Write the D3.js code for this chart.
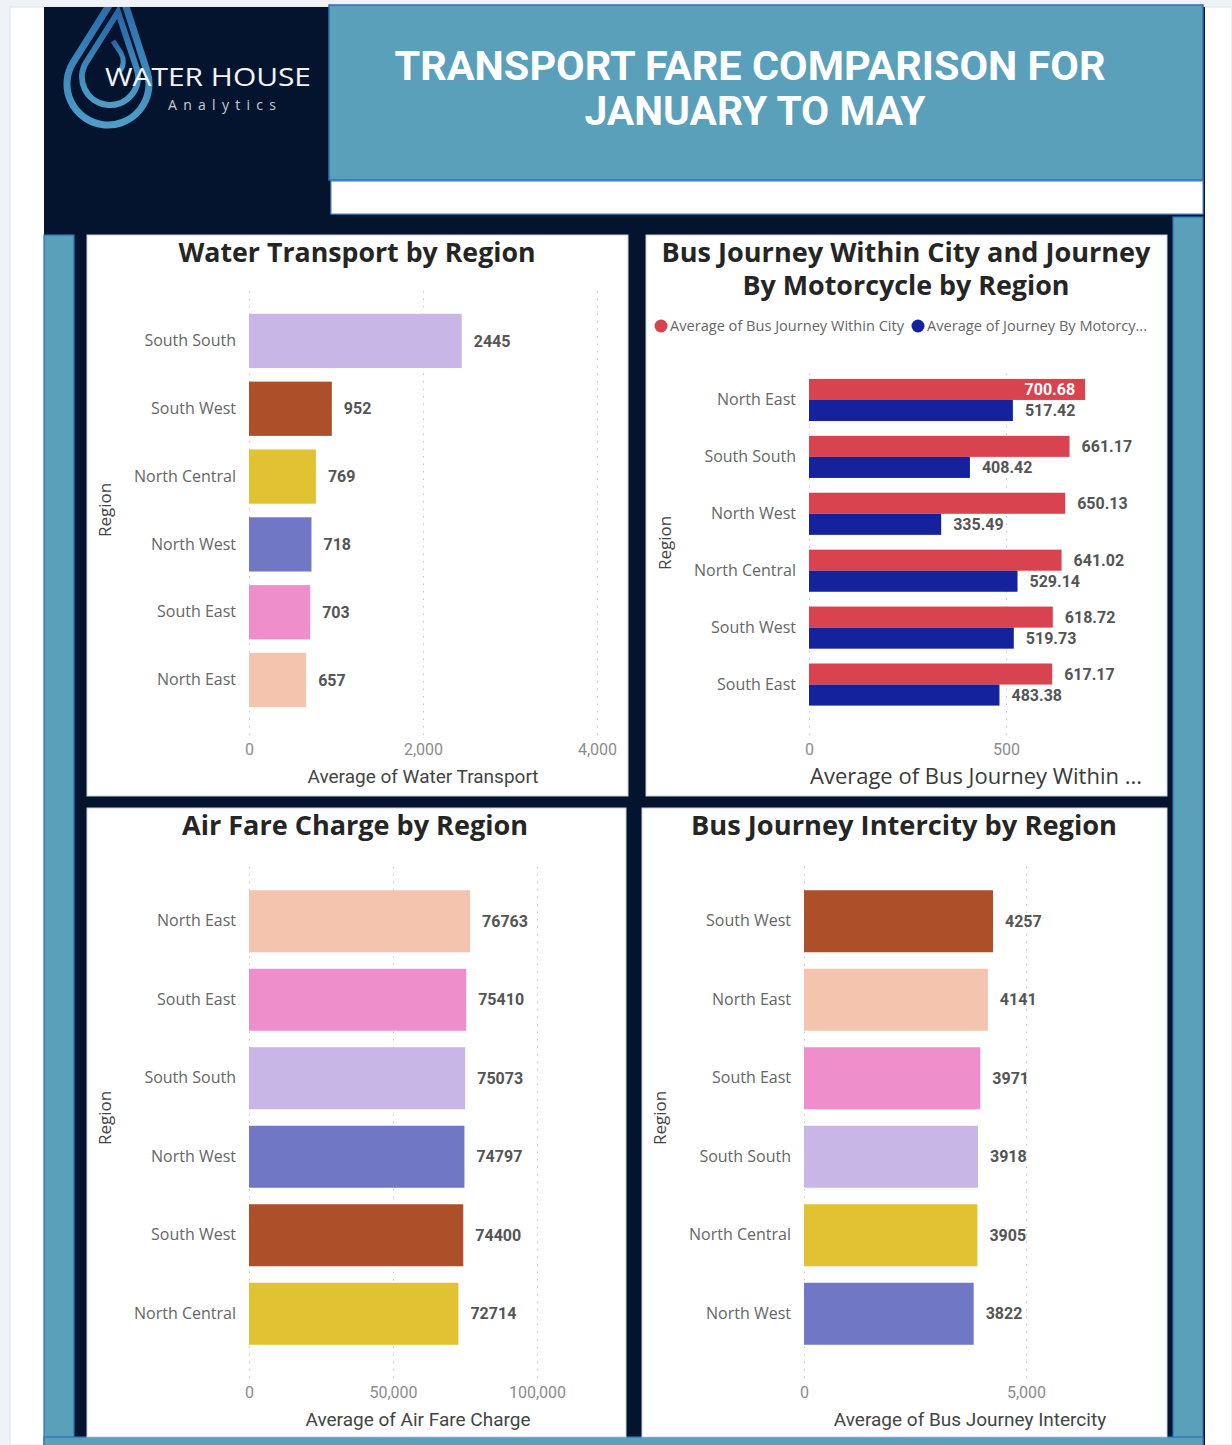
<!DOCTYPE html>
<html>
<head>
<meta charset="utf-8">
<script src="https://cdn.jsdelivr.net/npm/d3@7"></script>
<style>
  body { margin: 0; background: #eff3f8; }
  svg { display: block; }
</style>
</head>
<body>
<div id="chart"></div>
<script>
"use strict";

// --- data ---
var waterRegions = ["South South", "South West", "North Central", "North West", "South East", "North East"];
var waterValues = [2445, 952, 769, 718, 703, 657];
var waterTicks = [0, 2000, 4000];

var busRegions = ["North East", "South South", "North West", "North Central", "South West", "South East"];
var busCityValues = [700.68, 661.17, 650.13, 641.02, 618.72, 617.17];
var motoValues = [517.42, 408.42, 335.49, 529.14, 519.73, 483.38];
var busTicks = [0, 500];
var busSeries = ["Average of Bus Journey Within City", "Average of Journey By Motorcy..."];

var airRegions = ["North East", "South East", "South South", "North West", "South West", "North Central"];
var airValues = [76763, 75410, 75073, 74797, 74400, 72714];
var airTicks = [0, 50000, 100000];

var interRegions = ["South West", "North East", "South East", "South South", "North Central", "North West"];
var interValues = [4257, 4141, 3971, 3918, 3905, 3822];
var interTicks = [0, 5000];

var regionColor = {
  "South South": "#c8b7e6",
  "South West": "#ad4f28",
  "North Central": "#e0c232",
  "North West": "#7078c5",
  "South East": "#ee8fcc",
  "North East": "#f4c4ae"
};
var busColor = "#d8434f", motoColor = "#14229d";

var W = 1232, H = 1445;
var navy = "#04142e", teal = "#5aa0bb";

var svg = d3.select("#chart").append("svg")
  .attr("width", W)
  .attr("height", H);

// page + frame
svg.append("rect").attr("width", W).attr("height", H).attr("fill", "#eff3f8");
svg.append("rect").attr("x", 10).attr("y", 7).attr("width", W - 10).attr("height", H - 7)
  .attr("fill", "#ffffff").attr("stroke", "#dde3ea");
svg.append("rect").attr("x", 44).attr("y", 7).attr("width", 1161).attr("height", H - 7).attr("fill", navy);

// header title box
svg.append("rect").attr("x", 329).attr("y", 5).attr("width", 874).attr("height", 175)
  .attr("fill", teal).attr("stroke", "#2e72b3").attr("stroke-width", 1.5);
svg.append("rect").attr("x", 331).attr("y", 181).attr("width", 872).attr("height", 33)
  .attr("fill", "#ffffff").attr("stroke", "#5b95d6").attr("stroke-width", 1.2);

svg.append("text").attr("x", 750).attr("y", 80)
  .attr("text-anchor", "middle").attr("fill", "#fff")
  .attr("font-family", "Roboto").attr("font-weight", 700).attr("font-size", 40)
  .attr("textLength", 711).attr("lengthAdjust", "spacingAndGlyphs")
  .text("TRANSPORT FARE COMPARISON FOR");
svg.append("text").attr("x", 755).attr("y", 125)
  .attr("text-anchor", "middle").attr("fill", "#fff")
  .attr("font-family", "Roboto").attr("font-weight", 700).attr("font-size", 40)
  .attr("textLength", 341).attr("lengthAdjust", "spacingAndGlyphs")
  .text("JANUARY TO MAY");

// side strips
svg.append("rect").attr("x", 44).attr("y", 235).attr("width", 30).attr("height", H - 235)
  .attr("fill", teal).attr("stroke", "#2e72b3").attr("stroke-width", 1.2);
svg.append("rect").attr("x", 1173).attr("y", 217).attr("width", 30).attr("height", H - 217)
  .attr("fill", teal).attr("stroke", "#2e72b3").attr("stroke-width", 1.2);
svg.append("rect").attr("x", 44).attr("y", 1437).attr("width", 1159).attr("height", 12)
  .attr("fill", teal).attr("stroke", "#2e72b3").attr("stroke-width", 1.2);

// logo
var defs = svg.append("defs");
var grad = defs.append("linearGradient").attr("id", "dropGrad")
  .attr("x1", 0).attr("y1", 0).attr("x2", 0).attr("y2", 1);
grad.append("stop").attr("offset", "0%").attr("stop-color", "#2566a6");
grad.append("stop").attr("offset", "100%").attr("stop-color", "#4e9ec8");
defs.append("clipPath").attr("id", "logoClip")
  .append("rect").attr("x", 44).attr("y", 7).attr("width", 284).attr("height", 200);

function dropPath(cx, cy, r, tx, ty) {
  var dx = tx - cx, dy = ty - cy;
  var d = Math.sqrt(dx * dx + dy * dy);
  var base = Math.atan2(dy, dx);
  var phi = Math.acos(r / d);
  var a1 = base + phi, a2 = base - phi;
  var p1 = [cx + r * Math.cos(a1), cy + r * Math.sin(a1)];
  var p2 = [cx + r * Math.cos(a2), cy + r * Math.sin(a2)];
  return "M" + tx + "," + ty + " L" + p1[0] + "," + p1[1] +
    " A" + r + "," + r + " 0 1 1 " + p2[0] + "," + p2[1] + " Z";
}
var logo = svg.append("g").attr("clip-path", "url(#logoClip)");
logo.append("path").attr("d", dropPath(108, 84, 41, 120, -12))
  .attr("fill", "none").attr("stroke", "url(#dropGrad)").attr("stroke-width", 7);
logo.append("path").attr("d", dropPath(110, 77, 28, 118, 12))
  .attr("fill", "none").attr("stroke", "url(#dropGrad)").attr("stroke-width", 6);
logo.append("path").attr("d", "M113,41 L121,53 Q126,63 120,71")
  .attr("fill", "none").attr("stroke", "url(#dropGrad)").attr("stroke-width", 5);
logo.append("text").attr("x", 105).attr("y", 86)
  .attr("fill", "#f2f4f7").attr("font-family", "Open Sans").attr("font-size", 26)
  .attr("textLength", 206).attr("lengthAdjust", "spacingAndGlyphs")
  .text("WATER HOUSE");
logo.append("text").attr("x", 168).attr("y", 110)
  .attr("fill", "#c9ced6").attr("font-family", "Open Sans").attr("font-size", 14)
  .attr("textLength", 108)
  .text("Analytics");

// panels
var panels = [
  [87, 235, 541, 561],
  [646, 235, 521, 561],
  [87, 808, 539, 629],
  [642, 808, 525, 629]
];
svg.selectAll("rect.panel").data(panels).enter().append("rect")
  .attr("class", "panel")
  .attr("x", function(d) { return d[0]; })
  .attr("y", function(d) { return d[1]; })
  .attr("width", function(d) { return d[2]; })
  .attr("height", function(d) { return d[3]; })
  .attr("fill", "#ffffff").attr("stroke", "#c9ced8").attr("stroke-width", 1);

function title(lines, cx, y0, widths) {
  lines.forEach(function(t, i) {
    svg.append("text").attr("x", cx).attr("y", y0 + i * 33)
      .attr("text-anchor", "middle").attr("fill", "#252525")
      .attr("font-family", "Open Sans").attr("font-weight", 700).attr("font-size", 26)
      .attr("textLength", widths[i]).attr("lengthAdjust", "spacingAndGlyphs")
      .text(t);
  });
}

function regionLabel(x, y) {
  svg.append("text").attr("transform", "translate(" + x + "," + y + ") rotate(-90)")
    .attr("text-anchor", "middle").attr("fill", "#444")
    .attr("font-family", "Open Sans").attr("font-size", 17)
    .text("Region");
}

function axisPart(g, x, cfg) {
  var ax = g.append("g")
    .attr("transform", "translate(0," + cfg.gridBot + ")")
    .call(d3.axisBottom(x).tickValues(cfg.ticks)
      .tickSize(-(cfg.gridBot - cfg.gridTop))
      .tickPadding(9)
      .tickFormat(d3.format(",")));
  ax.select(".domain").remove();
  ax.selectAll(".tick line").attr("stroke", "#c4c4c4").attr("stroke-dasharray", "1.5,6");
  ax.selectAll(".tick text").attr("fill", "#8c8c8c")
    .attr("font-family", "Roboto").attr("font-size", 16);
}

function catAxis(g, y, labelX) {
  var ay = g.append("g")
    .attr("transform", "translate(" + labelX + ",0)")
    .call(d3.axisLeft(y).tickSize(0).tickPadding(0));
  ay.select(".domain").remove();
  ay.selectAll(".tick text").attr("fill", "#666")
    .attr("font-family", "Open Sans").attr("font-size", 16);
}

function simpleBars(cfg) {
  var g = svg.append("g");
  var x = d3.scaleLinear().domain([0, cfg.max]).range([cfg.x0, cfg.x1]);
  var y = d3.scaleBand().domain(cfg.regions).range([cfg.y0, cfg.y1])
    .paddingInner(cfg.pad).paddingOuter(cfg.pad / 2);
  var rows = cfg.regions.map(function(r, i) { return { region: r, value: cfg.values[i] }; });

  axisPart(g, x, cfg);
  catAxis(g, y, cfg.x0 - 13);

  g.selectAll("rect.bar").data(rows).enter().append("rect")
    .attr("class", "bar")
    .attr("x", x(0))
    .attr("y", function(d) { return y(d.region); })
    .attr("width", function(d) { return x(d.value) - x(0); })
    .attr("height", y.bandwidth())
    .attr("fill", function(d) { return regionColor[d.region]; });

  g.selectAll("text.val").data(rows).enter().append("text")
    .attr("class", "val")
    .attr("x", function(d) { return x(d.value) + 12; })
    .attr("y", function(d) { return y(d.region) + y.bandwidth() / 2; })
    .attr("dy", "0.35em")
    .attr("fill", "#555").attr("font-family", "Roboto").attr("font-weight", 700).attr("font-size", 16)
    .text(function(d) { return d.value; });

  g.append("text").attr("x", cfg.titleX).attr("y", cfg.titleY)
    .attr("text-anchor", "middle").attr("fill", "#444")
    .attr("font-family", "Roboto").attr("font-size", 19)
    .text(cfg.axisTitle);
}

// chart 1: water transport
title(["Water Transport by Region"], 357, 262, [357]);
regionLabel(111, 510);
simpleBars({
  regions: waterRegions, values: waterValues, ticks: waterTicks,
  max: 4000, x0: 249, x1: 597, y0: 307, y1: 714, pad: 0.2,
  gridTop: 290, gridBot: 735,
  axisTitle: "Average of Water Transport", titleX: 423, titleY: 783
});

// chart 3: air fare
title(["Air Fare Charge by Region"], 355, 835, [346]);
regionLabel(111, 1118);
simpleBars({
  regions: airRegions, values: airValues, ticks: airTicks,
  max: 100000, x0: 249, x1: 537, y0: 882, y1: 1353, pad: 0.21,
  gridTop: 865, gridBot: 1378,
  axisTitle: "Average of Air Fare Charge", titleX: 418, titleY: 1426
});

// chart 4: bus intercity
title(["Bus Journey Intercity by Region"], 904, 835, [426]);
regionLabel(666, 1118);
simpleBars({
  regions: interRegions, values: interValues, ticks: interTicks,
  max: 7500, x0: 804, x1: 1137, y0: 882, y1: 1353, pad: 0.21,
  gridTop: 865, gridBot: 1378,
  axisTitle: "Average of Bus Journey Intercity", titleX: 970, titleY: 1426
});

// chart 2: bus within city vs motorcycle
title(["Bus Journey Within City and Journey", "By Motorcycle by Region"], 906, 262, [489, 327]);
regionLabel(671, 543);
(function() {
  var cfg = { ticks: busTicks, gridTop: 368, gridBot: 735 };
  var g = svg.append("g");
  var x = d3.scaleLinear().domain([0, 840]).range([809, 1140]);
  var y = d3.scaleBand().domain(busRegions).range([371.5, 713])
    .paddingInner(0.26).paddingOuter(0.13);
  var keys = ["city", "moto"];
  var y1 = d3.scaleBand().domain(keys).range([0, y.bandwidth()]);
  var rows = busRegions.map(function(r, i) {
    return { region: r, city: busCityValues[i], moto: motoValues[i] };
  });

  axisPart(g, x, cfg);
  catAxis(g, y, 796);

  var grp = g.selectAll("g.grp").data(rows).enter().append("g")
    .attr("class", "grp")
    .attr("transform", function(d) { return "translate(0," + y(d.region) + ")"; });

  var cells = grp.selectAll("g.cell")
    .data(function(d) { return keys.map(function(k) { return { key: k, value: d[k] }; }); })
    .enter().append("g").attr("class", "cell");

  cells.append("rect")
    .attr("x", x(0))
    .attr("y", function(d) { return y1(d.key); })
    .attr("width", function(d) { return x(d.value) - x(0); })
    .attr("height", y1.bandwidth())
    .attr("fill", function(d) { return d.key === "city" ? busColor : motoColor; });

  cells.append("text")
    .attr("y", function(d) { return y1(d.key) + y1.bandwidth() / 2; })
    .attr("dy", "0.36em")
    .attr("font-family", "Roboto").attr("font-weight", 700).attr("font-size", 16)
    .each(function(d) {
      var inside = x(d.value) + 12 + 50 > 1142;
      d3.select(this)
        .attr("x", inside ? x(d.value) - 10 : x(d.value) + 12)
        .attr("text-anchor", inside ? "end" : "start")
        .attr("fill", inside ? "#ffffff" : "#555");
    })
    .text(function(d) { return d3.format(".2f")(d.value); });

  g.append("text").attr("x", 810).attr("y", 784)
    .attr("fill", "#3a3a3a").attr("font-family", "Open Sans").attr("font-size", 21)
    .attr("textLength", 332).attr("lengthAdjust", "spacingAndGlyphs")
    .text("Average of Bus Journey Within ...");

  // legend
  var leg = g.selectAll("g.leg").data(busSeries).enter().append("g")
    .attr("class", "leg")
    .attr("transform", function(d, i) { return "translate(" + (i === 0 ? 661 : 918) + ",326)"; });
  leg.append("circle").attr("r", 6.5)
    .attr("fill", function(d, i) { return i === 0 ? busColor : motoColor; });
  leg.append("text").attr("x", 9).attr("dy", "0.35em")
    .attr("fill", "#666").attr("font-family", "Open Sans").attr("font-size", 14)
    .attr("textLength", function(d, i) { return i === 0 ? 234 : 220; })
    .attr("lengthAdjust", "spacingAndGlyphs")
    .text(function(d) { return d; });
})();
</script>
</body>
</html>
